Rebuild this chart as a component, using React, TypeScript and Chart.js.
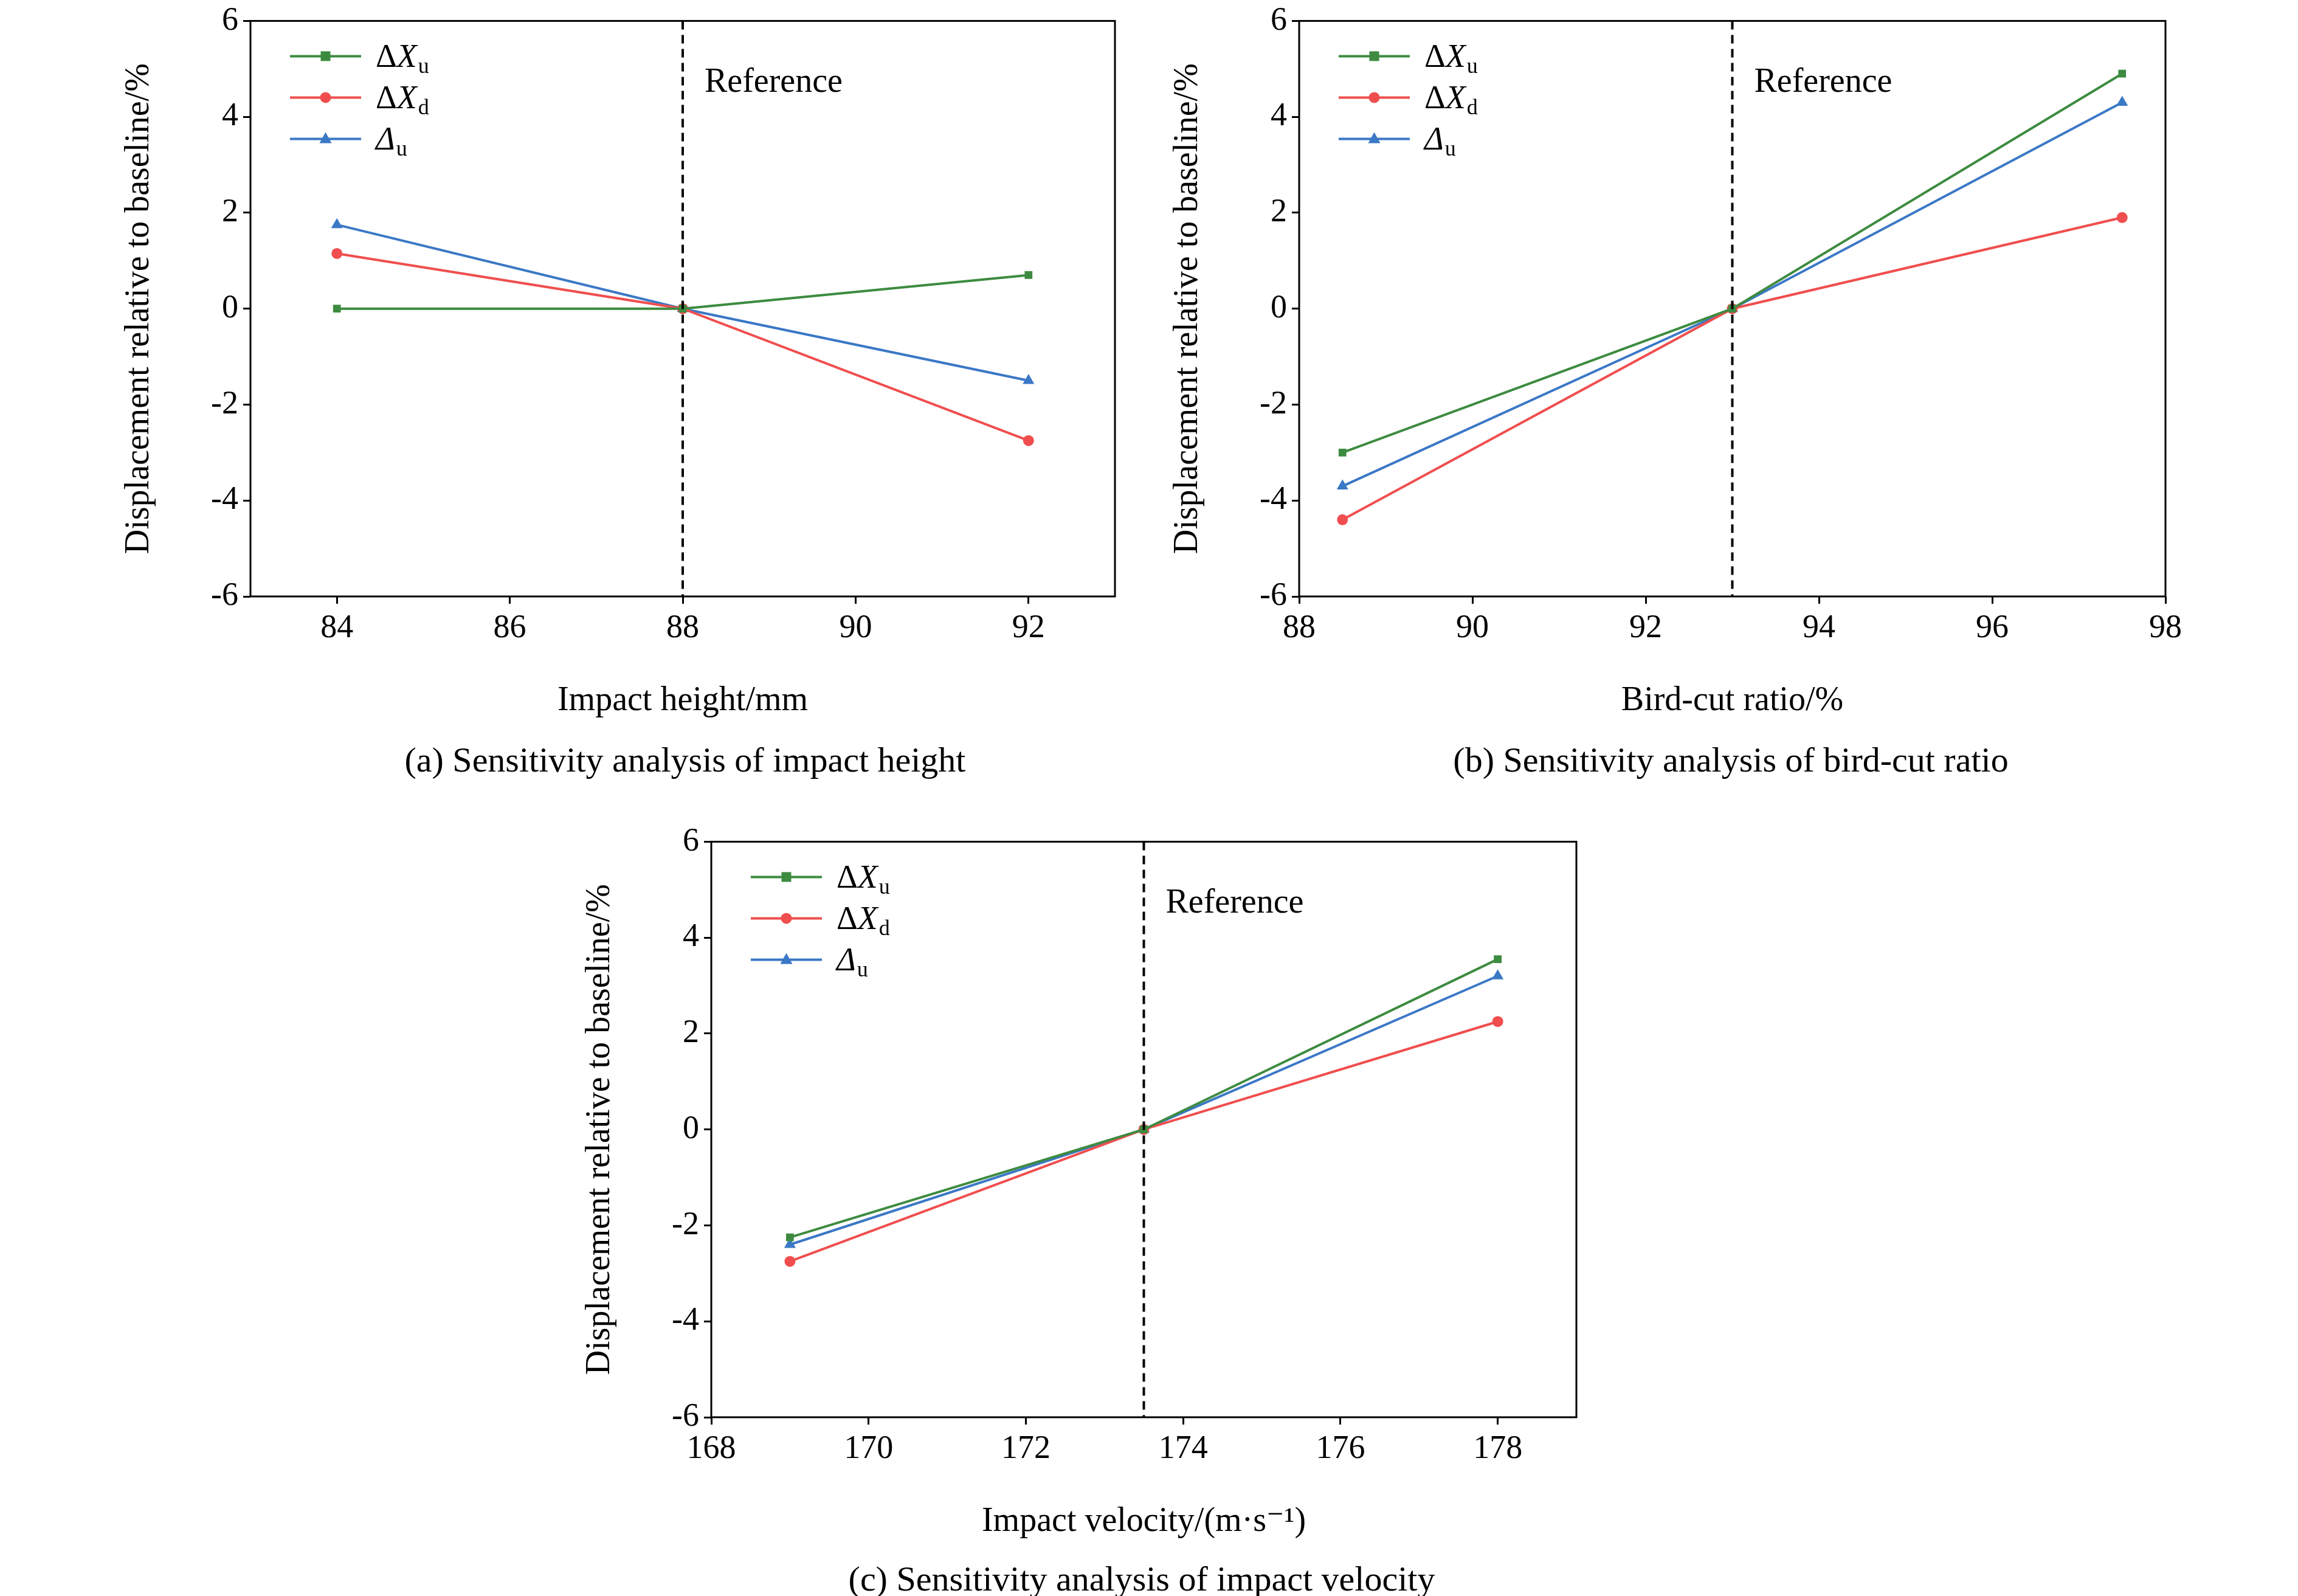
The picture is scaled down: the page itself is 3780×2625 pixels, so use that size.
import React, { useEffect, useRef } from "react";
import { Chart, registerables } from "chart.js";
Chart.register(...registerables);

const xA = [84, 88, 92];
const xuA = [0, 0, 0.7];
const xdA = [1.15, 0, -2.75];
const duA = [1.75, 0, -1.5];
const ticksA = [84, 86, 88, 90, 92];

const xB = [88.5, 93, 97.5];
const xuB = [-3.0, 0, 4.9];
const xdB = [-4.4, 0, 1.9];
const duB = [-3.7, 0, 4.3];
const ticksB = [88, 90, 92, 94, 96, 98];

const xC = [169, 173.5, 178];
const xuC = [-2.25, 0, 3.55];
const xdC = [-2.75, 0, 2.25];
const duC = [-2.4, 0, 3.2];
const ticksC = [168, 170, 172, 174, 176, 178];

const yTicks = [-6, -4, -2, 0, 2, 4, 6];
const GREEN = "#3d8b40";
const RED = "#f04e4e";
const BLUE = "#3b78c6";
const FONT = "'Liberation Serif', 'DejaVu Serif', serif";

const YW = 220, XH = 210, PT = 40, PR = 60;

type Cfg = {
  xs: number[]; xu: number[]; xd: number[]; du: number[]; ticks: number[];
  min: number; max: number; ref: number; title: string;
  left: number; top: number; w: number; h: number;
};

const charts: Cfg[] = [
  { xs: xA, xu: xuA, xd: xdA, du: duA, ticks: ticksA, min: 83, max: 93, ref: 88, title: "Impact height/mm", left: 412, top: 34, w: 1422, h: 947 },
  { xs: xB, xu: xuB, xd: xdB, du: duB, ticks: ticksB, min: 88, max: 98, ref: 93, title: "Bird-cut ratio/%", left: 2137, top: 34, w: 1425, h: 947 },
  { xs: xC, xu: xuC, xd: xdC, du: duC, ticks: ticksC, min: 168, max: 179, ref: 173.5, title: "Impact velocity/(m·s\u207B\u00B9)", left: 1170, top: 1384, w: 1423, h: 947 },
];

const overlay = (ref: number) => ({
  id: "overlay",
  afterDraw(chart: any) {
    const ctx = chart.ctx;
    const a = chart.chartArea;
    const xs = chart.scales.x;
    ctx.save();
    ctx.strokeStyle = "#000";
    ctx.lineWidth = 3;
    ctx.strokeRect(a.left, a.top, a.right - a.left, a.bottom - a.top);
    const rx = xs.getPixelForValue(ref);
    ctx.setLineDash([14, 9]);
    ctx.lineWidth = 4;
    ctx.beginPath();
    ctx.moveTo(rx, a.top);
    ctx.lineTo(rx, a.bottom);
    ctx.stroke();
    ctx.setLineDash([]);
    ctx.fillStyle = "#000";
    ctx.textBaseline = "middle";
    ctx.font = `56px ${FONT}`;
    ctx.fillText("Reference", rx + 36, a.top + 102);
    // legend
    const items = [
      { c: GREEN, m: "rect", sym: "\u0394", symItalic: false, X: true, sub: "u" },
      { c: RED, m: "circle", sym: "\u0394", symItalic: false, X: true, sub: "d" },
      { c: BLUE, m: "triangle", sym: "\u0394", symItalic: true, X: false, sub: "u" },
    ];
    items.forEach((it, i) => {
      const y = a.top + 58 + i * 68;
      const x0 = a.left + 65, x1 = a.left + 182;
      ctx.strokeStyle = it.c;
      ctx.lineWidth = 4;
      ctx.beginPath(); ctx.moveTo(x0, y); ctx.lineTo(x1, y); ctx.stroke();
      const cx = (x0 + x1) / 2;
      ctx.fillStyle = it.c;
      ctx.beginPath();
      if (it.m === "rect") ctx.rect(cx - 8, y - 8, 16, 16);
      else if (it.m === "circle") ctx.arc(cx, y, 9, 0, Math.PI * 2);
      else { ctx.moveTo(cx, y - 11); ctx.lineTo(cx + 10, y + 7); ctx.lineTo(cx - 10, y + 7); ctx.closePath(); }
      ctx.fill();
      ctx.fillStyle = "#000";
      let tx = a.left + 206;
      ctx.textBaseline = "alphabetic";
      const base = y + 18;
      ctx.font = `${it.symItalic ? "italic " : ""}54px ${FONT}`;
      ctx.fillText(it.sym, tx, base);
      tx += ctx.measureText(it.sym).width;
      if (it.X) {
        ctx.font = `italic 54px ${FONT}`;
        ctx.fillText("X", tx, base);
        tx += ctx.measureText("X").width;
      }
      ctx.font = `36px ${FONT}`;
      ctx.fillText(it.sub, tx + 2, base + 10);
    });
    ctx.restore();
  },
});

function One({ cfg }: { cfg: Cfg }) {
  const ref = useRef<HTMLCanvasElement>(null);
  const W = cfg.w + YW + PR, H = cfg.h + PT + XH;
  useEffect(() => {
    const mk = (label: string, ys: number[], color: string, style: any) => ({
      label, data: cfg.xs.map((x, i) => ({ x, y: ys[i] })), borderColor: color,
      backgroundColor: color, pointStyle: style, pointRadius: style === "triangle" ? 11 : 9,
      borderWidth: 4, pointBorderWidth: 0,
    });
    const tickFont = { family: FONT, size: 54 };
    const chart = new Chart(ref.current!, {
      type: "line",
      data: { datasets: [
        mk("Xu", cfg.xu, GREEN, "rect"),
        mk("Xd", cfg.xd, RED, "circle"),
        mk("du", cfg.du, BLUE, "triangle"),
      ] as any },
      options: {
        animation: false, responsive: false, devicePixelRatio: 1,
        layout: { padding: { top: PT, right: PR, left: 0, bottom: 0 } },
        plugins: { legend: { display: false }, tooltip: { enabled: false } },
        scales: {
          x: {
            type: "linear", min: cfg.min, max: cfg.max,
            afterBuildTicks: (s: any) => { s.ticks = cfg.ticks.map((v) => ({ value: v })); },
            afterFit: (s: any) => { s.height = XH; },
            grid: { drawOnChartArea: false, drawTicks: true, tickLength: 12, color: "#000", lineWidth: 3 },
            border: { display: false },
            ticks: { color: "#000", font: tickFont, maxRotation: 0, padding: 8 },
            title: { display: true, text: cfg.title, color: "#000", font: { family: FONT, size: 56 }, padding: { top: 20 } },
          },
          y: {
            min: -6, max: 6,
            afterBuildTicks: (s: any) => { s.ticks = yTicks.map((v) => ({ value: v })); },
            afterFit: (s: any) => { s.width = YW; },
            grid: { drawOnChartArea: false, drawTicks: true, tickLength: 12, color: "#000", lineWidth: 3 },
            border: { display: false },
            ticks: { color: "#000", font: tickFont, padding: 8 },
            title: { display: true, text: "Displacement relative to baseline/%", color: "#000", font: { family: FONT, size: 56 }, padding: { bottom: 6 } },
          },
        },
      },
      plugins: [overlay(cfg.ref)],
    } as any);
    return () => chart.destroy();
  }, []);
  return (
    <canvas ref={ref} width={W} height={H}
      style={{ position: "absolute", left: cfg.left - YW, top: cfg.top - PT, width: W, height: H }} />
  );
}

const captions = [
  { t: "(a) Sensitivity analysis of impact height", x: 1127, y: 1250 },
  { t: "(b) Sensitivity analysis of bird-cut ratio", x: 2847, y: 1250 },
  { t: "(c) Sensitivity analysis of impact velocity", x: 1878, y: 2597 },
];

export default function App() {
  return (
    <div style={{ position: "absolute", left: 0, top: 0, width: 3780, height: 2625, background: "#fff", fontFamily: FONT }}>
      {charts.map((c, i) => <One key={i} cfg={c} />)}
      {captions.map((c, i) => (
        <div key={i} style={{ position: "absolute", left: c.x - 1000, width: 2000, top: c.y - 35, textAlign: "center", fontSize: 58, lineHeight: "70px", color: "#000" }}>{c.t}</div>
      ))}
    </div>
  );
}
